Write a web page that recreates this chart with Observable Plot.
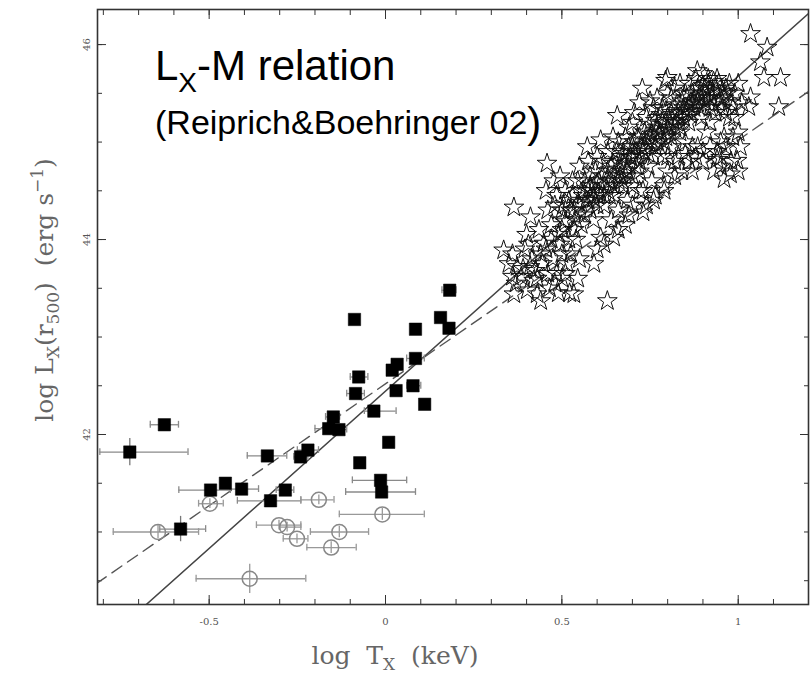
<!DOCTYPE html>
<html><head><meta charset="utf-8">
<script src="https://cdn.jsdelivr.net/npm/d3@7"></script>
<script src="https://cdn.jsdelivr.net/npm/@observablehq/plot@0.6"></script>
<style>
body{margin:0;background:#fff;}
#chart{position:relative;width:811px;height:676px;}
</style></head><body><div id="chart"></div>
<script>
// ---- axis ticks ----
const xMajorTicks = [-0.5, 0, 0.5, 1];
const xMinorTicks = [-0.8,-0.7,-0.6,-0.5,-0.4,-0.3,-0.2,-0.1,0,0.1,0.2,0.3,0.4,0.5,0.6,0.7,0.8,0.9,1.0,1.1];
const yMajorTicks = [42, 44, 46];
const yMinorTicks = [40.5,41,41.5,42,42.5,43,43.5,44,44.5,45,45.5,46];

// ---- fit lines (end points) ----
const solidX = [-0.68, 1.2];
const solidY = [40.25, 46.32];
const dashX = [-0.82, 1.2];
const dashY = [40.47, 45.52];

// ---- filled squares (groups) ----
const sqX   = [-0.725,-0.627,-0.581,-0.496,-0.454,-0.408,-0.335,-0.326,-0.284,-0.241,-0.22,-0.161,-0.148,-0.132,-0.085,-0.076,-0.088,-0.033,0.009,-0.073,-0.014,-0.011,0.019,0.033,0.03,0.078,0.085,0.085,0.111,0.156,0.18,0.182];
const sqY   = [41.82,42.10,41.03,41.43,41.50,41.44,41.78,41.32,41.43,41.77,41.84,42.06,42.18,42.05,42.42,42.59,43.18,42.24,41.92,41.71,41.53,41.41,42.66,42.72,42.45,42.50,42.78,43.08,42.31,43.20,43.09,43.48];
const sqXlo = [-0.81,-0.667,-0.64,-0.586,-0.454,-0.44,-0.392,-0.42,-0.31,-0.26,-0.25,-0.2,-0.17,-0.15,-0.11,-0.1,-0.088,-0.06,0.009,-0.073,-0.094,-0.113,0.019,0.033,0.03,0.06,0.06,0.085,0.111,0.14,0.18,0.16];
const sqXhi = [-0.56,-0.587,-0.51,-0.44,-0.454,-0.36,-0.28,-0.24,-0.26,-0.22,-0.19,-0.12,-0.13,-0.11,-0.06,-0.05,-0.088,0.03,0.009,-0.073,0.06,0.085,0.019,0.033,0.03,0.1,0.11,0.085,0.111,0.17,0.18,0.2];
const sqYerr = [0.14,0,0.13,0,0,0,0,0,0,0,0,0,0,0,0,0,0,0,0,0,0,0,0,0,0,0,0,0,0,0,0,0];

// ---- open circles (groups) ----
const ciX   = [-0.498,-0.645,-0.385,-0.302,-0.279,-0.251,-0.189,-0.009,-0.131,-0.154];
const ciY   = [41.29,41.00,40.52,41.07,41.05,40.93,41.33,41.18,41.00,40.84];
const ciXlo = [-0.53,-0.772,-0.537,-0.366,-0.3,-0.29,-0.24,-0.131,-0.213,-0.223];
const ciXhi = [-0.46,-0.53,-0.226,-0.24,-0.24,-0.22,-0.146,0.11,-0.048,-0.083];
const ciYerr = [0.05,0.07,0.15,0.05,0.05,0.05,0.05,0.06,0.06,0.06];

// ---- stars (clusters) ----
const starXY = [
[1.035,46.11],[1.082,45.97],[1.063,45.82],[1.073,45.66],[1.12,45.66],[1.115,45.36],
[0.728,45.55],[0.657,45.27],[0.884,45.73],[0.794,45.63],[0.458,44.78],[0.364,44.33],[0.335,43.89],[0.629,43.37],[0.534,43.44],[0.44,43.37],[0.402,43.48],[0.364,43.44],[0.411,44.23],[0.647,44.02],[0.591,43.75],[0.572,44.95],[0.61,45.02],[0.997,44.81],[0.978,44.67],[1.006,44.95],[0.95,44.84],[1.03,45.36],[1.035,45.46],[0.477,44.6],[0.373,43.72],[0.41,43.72],[0.449,43.96],[0.43,43.44],[0.5,43.6],[0.522,43.45],[0.799,45.66],
[0.35,43.75],[0.36,43.62],[0.36,43.85],
[0.39,43.7],[0.395,43.9],[0.40,44.05],[0.42,43.58],[0.415,43.8],
[0.43,43.6],[0.445,43.75],[0.455,43.9],[0.435,44.1],[0.46,44.3],[0.455,44.5],[0.465,43.5],[0.47,44.0],
[0.49,43.45],[0.485,43.65],[0.5,43.85],[0.49,44.05],[0.505,44.2],[0.48,44.35],[0.51,44.5],[0.495,44.65],[0.515,43.75],[0.52,44.0],[0.52,44.4],
[0.545,43.6],[0.55,43.8],[0.54,44.0],[0.555,44.15],[0.535,44.3],[0.56,44.45],[0.545,44.6],[0.55,44.75],[0.57,44.4],[0.575,44.5],[0.565,44.25],
[0.6,43.9],[0.61,44.02],[0.59,44.2],[0.6,44.35],[0.585,44.5],[0.605,44.6],[0.595,44.7],[0.6,44.85],[0.62,44.45],
[0.64,44.2],[0.66,44.3],[0.635,44.45],[0.65,44.55],[0.665,44.65],[0.64,44.75],[0.655,44.9],[0.645,45.05],[0.67,44.85],[0.67,44.6],
[0.69,44.25],[0.685,44.4],[0.7,44.55],[0.68,44.65],[0.71,44.75],[0.695,44.85],[0.7,44.95],[0.715,45.05],[0.69,45.15],[0.705,45.3],[0.72,44.5],[0.72,44.7],
[0.74,44.35],[0.73,44.5],[0.755,44.6],[0.745,44.75],[0.76,44.85],[0.735,44.95],[0.75,45.05],[0.77,45.15],[0.74,45.25],[0.76,45.35],[0.77,45.0],[0.765,44.45],
[0.79,44.55],[0.8,44.7],[0.785,44.85],[0.81,44.95],[0.795,45.05],[0.82,45.15],[0.8,45.25],[0.785,45.35],[0.81,45.45],[0.78,45.1],[0.82,44.65],
[0.84,44.7],[0.83,44.85],[0.85,45.0],[0.835,45.1],[0.86,45.2],[0.845,45.3],[0.87,45.4],[0.85,45.5],[0.835,45.6],[0.87,44.95],[0.83,45.25],
[0.9,44.8],[0.885,44.95],[0.91,45.1],[0.895,45.25],[0.92,45.35],[0.89,45.45],[0.905,45.55],[0.915,45.65],[0.92,45.2],
[0.95,44.75],[0.94,44.9],[0.96,45.05],[0.935,45.3],[0.95,45.45],[0.965,45.55],[0.94,45.65],[0.975,45.6],
[0.99,45.5],[1.0,45.6],[1.01,45.4],[0.99,45.25],[1.0,45.1],
[0.93,44.7],[0.96,44.62],[0.98,44.8],[0.92,44.95],[0.95,45.0],[1.0,44.7],[0.7,44.35],[0.73,44.28],[0.76,44.4],[0.79,44.5],[0.62,43.95],[0.66,44.1],[0.68,44.15],
[0.55,44.35],[0.56,44.5],[0.575,44.4],[0.58,44.55],[0.59,44.42],[0.6,44.58],[0.605,44.48],[0.615,44.65],[0.62,44.55],[0.63,44.7],[0.635,44.6],[0.645,44.78],[0.65,44.66],[0.66,44.8],[0.665,44.72],[0.675,44.88],[0.68,44.78],[0.69,44.95],[0.695,44.84],[0.705,45.0],[0.71,44.9],[0.72,45.05],[0.725,44.95],[0.735,45.1],[0.74,45.02],[0.75,45.18],[0.755,45.08],[0.765,45.22],[0.77,45.12],[0.78,45.28],[0.785,45.2],[0.795,45.32],[0.8,45.15],[0.81,45.3],[0.815,45.22],[0.825,45.38],[0.83,45.3],[0.84,45.42],[0.845,45.35],[0.855,45.45],[0.86,45.38],[0.87,45.5],[0.875,45.42],[0.885,45.55],[0.89,45.48],[0.9,45.58],[0.905,45.5],[0.915,45.6],[0.92,45.53],[0.93,45.62],[0.935,45.55],[0.945,45.6],[0.955,45.52],[0.96,45.45],[0.97,45.5],[0.98,45.42],[0.525,44.3],[0.53,44.45],[0.54,44.2],[0.545,44.38],[0.51,44.18],[0.5,44.3],
[0.37,43.55],[0.385,43.62],[0.405,43.95],[0.425,43.68],[0.44,43.85],[0.46,43.65],[0.475,43.8],[0.48,43.55],[0.495,43.95],[0.51,43.65],[0.525,43.85],[0.535,44.1],[0.5,44.1],[0.47,44.15],[0.485,44.45],[0.505,44.35],
[0.58,44.3],[0.6,44.45],[0.62,44.35],[0.63,44.5],[0.65,44.45],[0.66,44.6],[0.675,44.55],[0.685,44.7],[0.7,44.65],[0.71,44.85],[0.72,44.8],[0.73,44.9],[0.745,44.88],[0.755,45.0],[0.765,44.95],[0.775,45.08],[0.79,45.0],[0.8,45.12],[0.81,45.05],[0.825,45.2],[0.835,45.15],[0.845,45.25],[0.855,45.32],[0.865,45.28],[0.875,45.35],[0.885,45.4],[0.895,45.35],[0.905,45.42],[0.915,45.45],[0.925,45.45],[0.93,45.38],[0.945,45.4],[0.955,45.35],[0.965,45.3],[0.975,45.25],[0.985,45.35],[0.86,45.6],[0.88,45.65],[0.9,45.7],[0.82,45.55],[0.8,45.5],[0.77,45.45],[0.75,45.42],[0.72,45.4],[0.7,45.2],[0.68,45.05],[0.66,45.0],[0.63,44.9],[0.615,44.8],[0.58,44.65],[0.565,44.6],[0.53,44.6],[0.575,44.8],
[0.94,44.82],[0.965,44.95],[0.985,45.05],[0.9,44.9],[0.88,44.85],[0.86,44.8],[0.85,44.88],[0.87,44.7],[0.82,44.8],[0.8,44.85]
];

// ---- texts ----
const titleMain = ["L", "X", "-M relation"];
const subtitleText = ["(Reiprich&Boehringer 02", ")"];
const xTitle = ["log  T", "X", "  (keV)"];
const yTitle = ["log L", "X", "(r", "500", ")  (erg s", "\u22121", ")"];

// ---- build tables ----
const squares = sqX.map((x, i) => ({x, y: sqY[i], xlo: sqXlo[i], xhi: sqXhi[i], yerr: sqYerr[i]}));
const circles = ciX.map((x, i) => ({x, y: ciY[i], xlo: ciXlo[i], xhi: ciXhi[i], yerr: ciYerr[i]}));
const stars = starXY.map(([x, y]) => ({x, y}));
const solid = solidX.map((x, i) => ({x, y: solidY[i]}));
const dashed = dashX.map((x, i) => ({x, y: dashY[i]}));

const hbars = [...squares.filter(d => d.xhi > d.xlo).map(d => ({...d, c: "#8a8a8a"})),
               ...circles.map(d => ({...d, c: "#999"}))];
const caps = hbars.flatMap(d => [{x: d.xlo, y: d.y, c: d.c}, {x: d.xhi, y: d.y, c: d.c}]);
const vbars = [...squares.filter(d => d.yerr > 0).map(d => ({...d, c: "#777"})),
               ...circles.map(d => ({...d, c: "#999"}))];

const tickFont = "'DejaVu Serif', serif";

const plot = Plot.plot({
  width: 811,
  height: 676,
  marginLeft: 97,
  marginRight: 3,
  marginTop: 9,
  marginBottom: 72,
  style: {background: "#fff"},
  x: {domain: [-0.8166, 1.1993]},
  y: {domain: [40.256, 46.36]},
  marks: [
    Plot.axisX({anchor: "bottom", ticks: xMinorTicks, tickSize: -5, tickFormat: () => "", label: null, stroke: "#333"}),
    Plot.axisX({anchor: "top", ticks: xMinorTicks, tickSize: -5, tickFormat: () => "", label: null, stroke: "#333"}),
    Plot.axisX({anchor: "bottom", ticks: xMajorTicks, tickSize: -9, tickFormat: () => "", label: null, stroke: "#333"}),
    Plot.axisX({anchor: "top", ticks: xMajorTicks, tickSize: -9, tickFormat: () => "", label: null, stroke: "#333"}),
    Plot.axisX({anchor: "bottom", ticks: xMajorTicks, tickSize: 0, tickPadding: 13, tickFormat: d => String(d), label: null, fontSize: 10, fill: "#555", fontFamily: tickFont}),
    Plot.axisY({anchor: "left", ticks: yMinorTicks, tickSize: -5, tickFormat: () => "", label: null, stroke: "#333"}),
    Plot.axisY({anchor: "right", ticks: yMinorTicks, tickSize: -5, tickFormat: () => "", label: null, stroke: "#333"}),
    Plot.axisY({anchor: "left", ticks: yMajorTicks, tickSize: -9, tickFormat: () => "", label: null, stroke: "#333"}),
    Plot.axisY({anchor: "right", ticks: yMajorTicks, tickSize: -9, tickFormat: () => "", label: null, stroke: "#333"}),
    Plot.axisY({anchor: "left", ticks: yMajorTicks, tickSize: 0, tickPadding: 8, tickRotate: -90, tickFormat: d => String(d), label: null, fontSize: 10, fill: "#555", fontFamily: tickFont}),
    Plot.line(solid, {x: "x", y: "y", stroke: "#444", strokeWidth: 1.5, clip: true}),
    Plot.line(dashed, {x: "x", y: "y", stroke: "#555", strokeWidth: 1.4, strokeDasharray: "12,7", clip: true}),
    Plot.ruleY(hbars, {y: "y", x1: "xlo", x2: "xhi", stroke: "c", strokeWidth: 1.3}),
    Plot.ruleX(caps, {x: "x", y1: d => d.y - 0.035, y2: d => d.y + 0.035, stroke: "c", strokeWidth: 1.3}),
    Plot.ruleX(vbars, {x: "x", y1: d => d.y - d.yerr, y2: d => d.y + d.yerr, stroke: "c", strokeWidth: 1.3}),
    Plot.dot(stars, {x: "x", y: "y", symbol: "star", r: 6.2, fill: "none", stroke: "#111", strokeWidth: 1}),
    Plot.dot(circles, {x: "x", y: "y", r: 7.5, fill: "none", stroke: "#888", strokeWidth: 1.5}),
    Plot.dot(squares, {x: "x", y: "y", symbol: "square", r: 7, fill: "#000", stroke: "#000", strokeWidth: 0.5}),
    Plot.frame({stroke: "#333", strokeWidth: 1.6})
  ]
});
document.getElementById("chart").appendChild(plot);

// ---- annotations ----
const svg = d3.select(plot);
const sans = "'Liberation Sans', Arial, Helvetica, sans-serif";
const serif = "'DejaVu Serif', 'Liberation Serif', serif";

const t1 = svg.append("text").attr("x", 155).attr("y", 80).attr("text-anchor", "start")
  .attr("font-family", sans).attr("font-size", 42).attr("fill", "#000");
t1.append("tspan").text(titleMain[0]);
t1.append("tspan").attr("font-size", 28).attr("dy", 12).text(titleMain[1]);
t1.append("tspan").attr("dy", -12).text(titleMain[2]);

const t2 = svg.append("text").attr("x", 155).attr("y", 134).attr("text-anchor", "start")
  .attr("font-family", sans).attr("font-size", 34).attr("fill", "#000");
t2.append("tspan").text(subtitleText[0]);
t2.append("tspan").attr("font-size", 42).attr("dy", 3).text(subtitleText[1]);

const tx = svg.append("text").attr("x", 395).attr("y", 664).attr("text-anchor", "middle")
  .attr("font-family", serif).attr("font-size", 25).attr("fill", "#666")
  .style("white-space", "pre");
tx.append("tspan").text(xTitle[0]);
tx.append("tspan").attr("font-size", 17).attr("dy", 6).text(xTitle[1]);
tx.append("tspan").attr("dy", -6).text(xTitle[2]);

const ty = svg.append("text").attr("transform", "translate(53,290) rotate(-90)").attr("text-anchor", "middle")
  .attr("font-family", serif).attr("font-size", 25).attr("fill", "#666")
  .style("white-space", "pre");
ty.append("tspan").text(yTitle[0]);
ty.append("tspan").attr("font-size", 17).attr("dy", 6).text(yTitle[1]);
ty.append("tspan").attr("dy", -6).text(yTitle[2]);
ty.append("tspan").attr("font-size", 17).attr("dy", 6).text(yTitle[3]);
ty.append("tspan").attr("dy", -6).text(yTitle[4]);
ty.append("tspan").attr("font-size", 17).attr("dy", -10).text(yTitle[5]);
ty.append("tspan").attr("dy", 10).text(yTitle[6]);
</script>
</body></html>
